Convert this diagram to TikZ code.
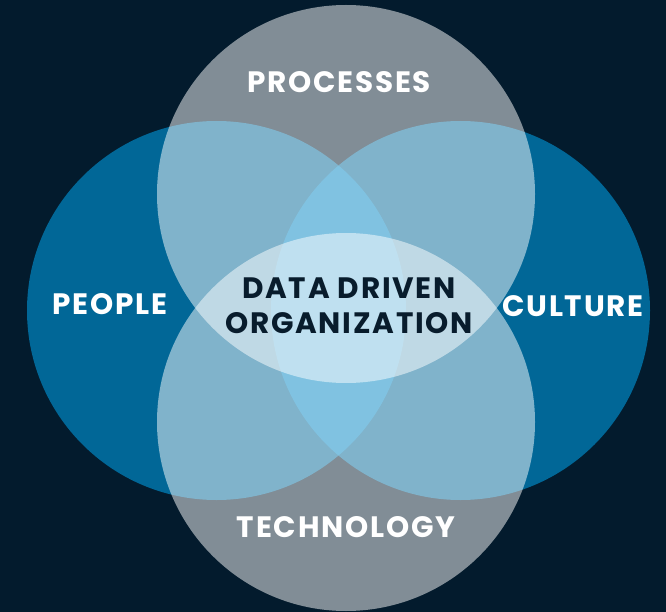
\documentclass[tikz,border=0pt]{standalone}
\usepackage{fontspec}
\setmainfont{Poppins}[LetterSpace=6]
\usepackage{tikz}
\usetikzlibrary{positioning}

\definecolor{navy}{RGB}{3,27,45}
\definecolor{seablue}{RGB}{0,158,228}
\definecolor{inktext}{RGB}{8,28,44}

\begin{document}
\begin{tikzpicture}[x=1pt,y=-1pt,
  bluedisc/.style={fill=seablue,fill opacity=0.58},
  greydisc/.style={fill=white,fill opacity=0.5},
  word/.style={font=\bfseries\fontsize{29.5}{35}\selectfont,text=white,align=center,inner sep=0pt}]
%\draw[help lines,step=50pt] (0,0) grid (666,612);
\fill[navy] (0,0) rectangle (666,612);
\useasboundingbox (0,0) rectangle (666,612);
% people and culture
\fill[bluedisc] (216.5,310.5) circle (189.5pt);
\fill[bluedisc] (460.5,310.5) circle (189.5pt);
% processes and technology
\fill[greydisc] (346,194) circle (189pt);
\fill[greydisc] (346,422) circle (189pt);
\node[word] (processes) at (339,82) {PROCESSES};
\node[word] (people) at (110,304) {PEOPLE};
\node[word] (culture) at (573,306) {CULTURE};
\node[word] (technology) at (346,527) {TECHNOLOGY};
\node[word,text=inktext] (ddo) at (349,306) {DATA DRIVEN\\ORGANIZATION};
\end{tikzpicture}
\end{document}
